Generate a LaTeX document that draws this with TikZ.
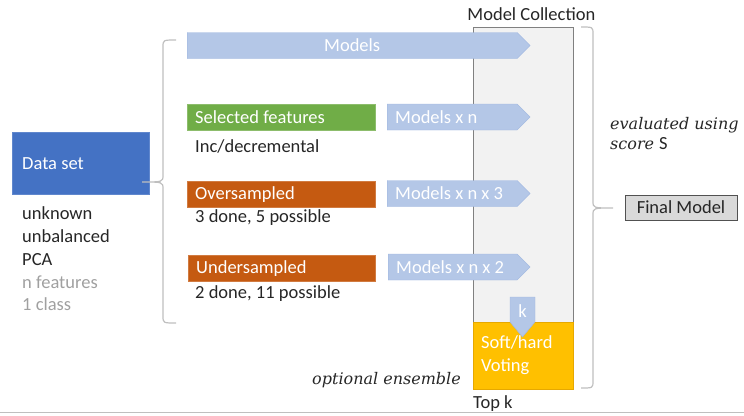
\documentclass[tikz,border=0pt]{standalone}
\usepackage{fontspec}
\setmainfont{Carlito}
\newfontfamily\evfont{DejaVu Serif}
\usetikzlibrary{shapes.symbols,calc}
\definecolor{cblue}{HTML}{4472C4}
\definecolor{cgreen}{HTML}{70AD47}
\definecolor{corange}{HTML}{C55A11}
\definecolor{arrfill}{HTML}{B4C7E7}
\definecolor{arrdraw}{HTML}{9DB5E0}
\definecolor{collfill}{HTML}{F2F2F2}
\definecolor{colldraw}{HTML}{808080}
\definecolor{cyellow}{HTML}{FFC000}
\definecolor{yelldraw}{HTML}{E6A800}
\definecolor{finfill}{HTML}{D9D9D9}
\definecolor{bracecol}{HTML}{BFBFBF}
\definecolor{greytext}{HTML}{A0A0A0}
\definecolor{txt}{HTML}{262626}
\newcommand{\lbox}[2]{\makebox[#1][l]{#2}}
\begin{document}
\begin{tikzpicture}[x=1pt,y=-1pt,
  font=\fontsize{18.5}{22.8}\selectfont, text=txt,
  catbox/.style={draw=#1!80!white, fill=#1, text=white, anchor=north west, minimum height=26pt,
    minimum width=188pt, inner xsep=8pt, inner ysep=0pt},
  arr/.style={signal, signal to=east, fill=arrfill, draw=arrdraw, inner sep=0pt,
    minimum height=26pt, anchor=west, text=white},
  arrtxt/.style={text=white, anchor=west, inner sep=0pt},
  plain/.style={inner sep=0pt},
  brace/.style={draw=bracecol, line width=1.2pt},
  evstyle/.style={font=\evfont\itshape\fontsize{16}{20}\selectfont},
]
\useasboundingbox (0,0) rectangle (744,415);

% model collection
\node[draw=colldraw, fill=collfill, anchor=north west, minimum width=100pt, minimum height=362pt, inner sep=0pt, line width=0.8pt] (coll) at (473,27) {};
\node[plain, anchor=south] (colllab) at ($(coll.north)+(8,-6)$) {Model Collection};

% data set
\node[fill=cblue, draw=cblue!85!white, text=white, anchor=north west, minimum width=137pt, minimum height=62pt,
  inner xsep=10pt, inner ysep=0pt] (data) at (12,132) {\lbox{117pt}{Data set}};
\node[plain, anchor=north west] (dlist) at (22,203.5)
  {\begin{tabular}{@{}l@{}}unknown\\unbalanced\\PCA\\\textcolor{greytext}{n features}\\\textcolor{greytext}{1 class}\end{tabular}};

% categories
\node[catbox=cgreen] (sel) at (187,104) {\lbox{172pt}{Selected features}};
\node[plain, anchor=west] (seltxt) at (195,146) {Inc/decremental};
\node[catbox=corange] (over) at (187,181) {\lbox{172pt}{Oversampled}};
\node[plain, anchor=west] (overtxt) at (195,218) {3 done, 5 possible};
\node[catbox=corange, minimum width=187pt] (under) at (188,255) {\lbox{171pt}{Undersampled}};
\node[plain, anchor=west] (undertxt) at (195,294) {2 done, 11 possible};

% arrows
\node[arr, minimum width=343pt] (models) at (187,45.5) {Models};
\node[arr, minimum width=143pt] (m1) at (387,117) {};
\node[arrtxt] (m1t) at ($(m1.west)+(8,0)$) {Models x n};
\node[arr, minimum width=143pt] (m2) at (387,193.5) {};
\node[arrtxt] (m2t) at ($(m2.west)+(8,0)$) {Models x n x 3};
\node[arr, minimum width=142pt] (m3) at (388,267) {};
\node[arrtxt] (m3t) at ($(m3.west)+(8,0)$) {Models x n x 2};

% voting
\node[fill=cyellow, draw=yelldraw, anchor=north west, minimum width=100pt, minimum height=67pt,
  inner xsep=8pt, inner ysep=0pt, text=white] (vote) at (473,322)
  {\lbox{84pt}{\begin{tabular}{@{}l@{}}Soft/hard\\Voting\end{tabular}}};
\coordinate (ktop) at (522.5,297);
\draw[fill=arrfill, draw=arrdraw] ($(ktop)+(-12.5,0)$) -- ($(ktop)+(12.5,0)$) -- ($(ktop)+(12.5,25)$)
  -- ($(ktop)+(0,40)$) -- ($(ktop)+(-12.5,25)$) -- cycle;
\node[arrtxt, anchor=center] (kt) at ($(ktop)+(0,14)$) {k};
\node[plain, anchor=west] (topk) at ($(vote.south west)+(0,14)$) {Top k};
\node[plain, anchor=east, evstyle] (opt) at (461,380) {optional ensemble};

% braces
\draw[brace] (176,40) .. controls (163,40) .. (163,47) -- (163,175)
  .. controls (163,182) .. (142,182) .. controls (163,182) .. (163,189)
  -- (163,316) .. controls (163,323) .. (176,323);
\draw[brace] (581,27) .. controls (593,27) .. (593,34) -- (593,201)
  .. controls (593,208) .. (613,208) .. controls (593,208) .. (593,215)
  -- (593,381) .. controls (593,388) .. (581,388);

% final
\node[plain, anchor=north west, align=left, evstyle] (eval) at (610,117)
  {evaluated using\\score {\normalfont\fontsize{18.5}{20}\selectfont S}};
\node[draw=txt!80!white, fill=finfill, minimum width=112pt, minimum height=25pt, inner sep=0pt] (final) at (681,207.5) {Final Model};

% bottom line
\draw[draw=bracecol, line width=0.8pt] (0,412) -- (744,412);
\end{tikzpicture}
\end{document}
